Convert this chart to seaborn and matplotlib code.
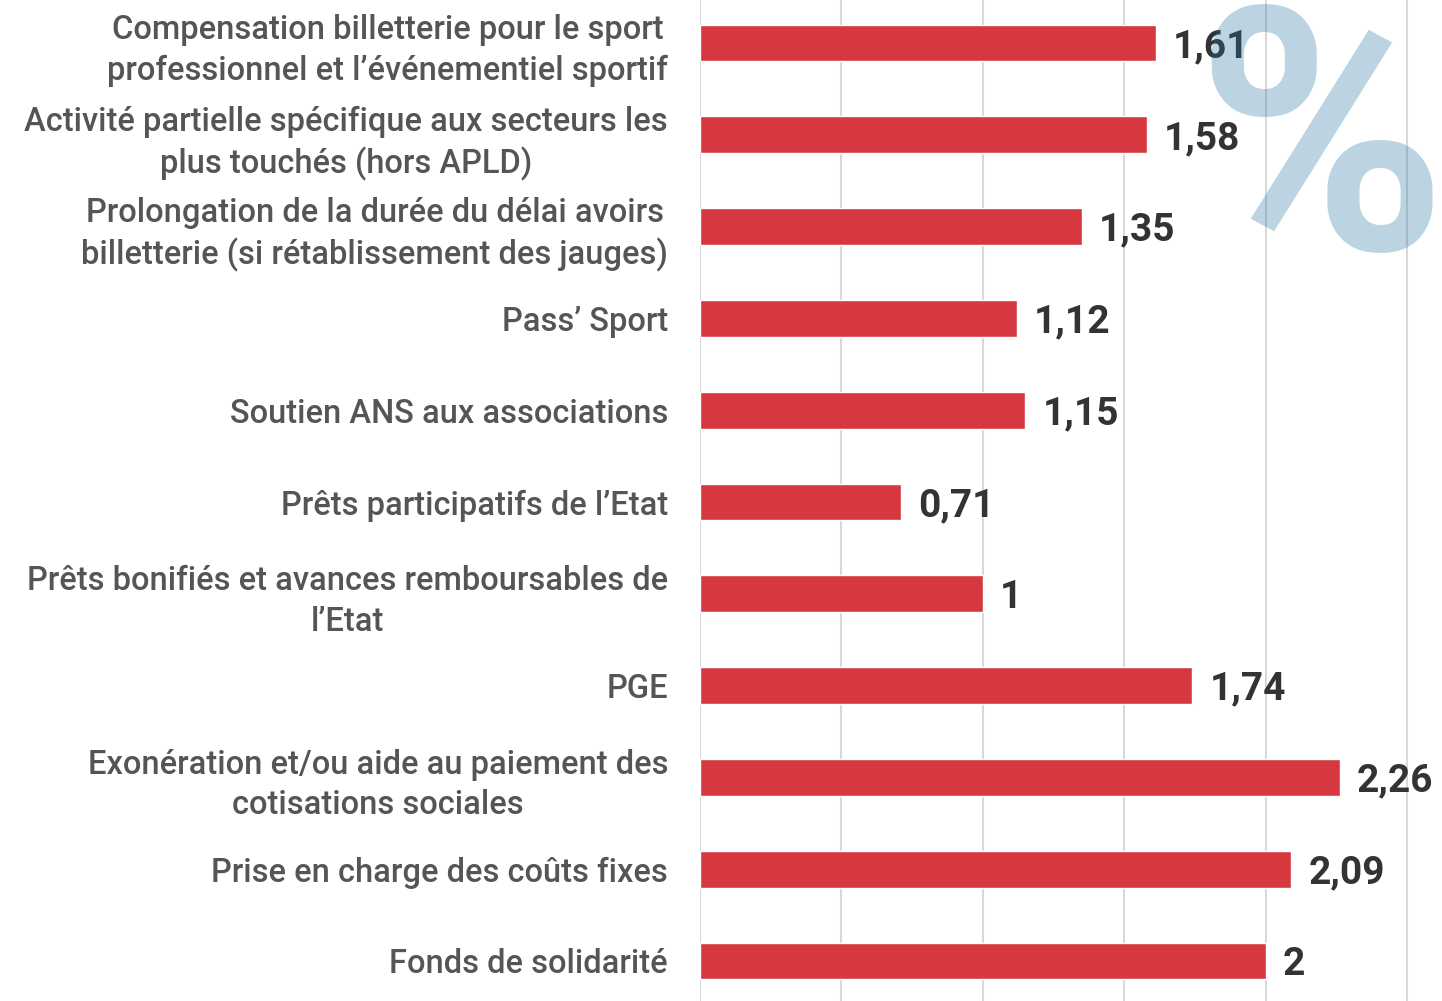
import seaborn as sb
import pandas as pd
import numpy as np
import matplotlib.pyplot as plt

# aides covid au sport -- note moyenne par dispositif
labels = [
    "Compensation billetterie pour le sport\nprofessionnel et l\u2019\u00e9v\u00e9nementiel sportif",
    "Activit\u00e9 partielle sp\u00e9cifique aux secteurs les\nplus touch\u00e9s (hors APLD)",
    "Prolongation de la dur\u00e9e du d\u00e9lai avoirs\nbilletterie (si r\u00e9tablissement des jauges)",
    "Pass\u2019 Sport",
    "Soutien ANS aux associations",
    "Pr\u00eats participatifs de l\u2019Etat",
    "Pr\u00eats bonifi\u00e9s et avances remboursables de\nl\u2019Etat",
    "PGE",
    "Exon\u00e9ration et/ou aide au paiement des\ncotisations sociales",
    "Prise en charge des co\u00fbts fixes",
    "Fonds de solidarit\u00e9",
]
values = [1.61, 1.58, 1.35, 1.12, 1.15, 0.71, 1.00, 1.74, 2.26, 2.09, 2.00]
value_text = ["1,61", "1,58", "1,35", "1,12", "1,15", "0,71", "1", "1,74", "2,26", "2,09", "2"]

df = pd.DataFrame({'dispositif': labels, 'note': values})

sb.set_theme(style='white')
plt.rcParams['font.family'] = ['Roboto', 'DejaVu Sans']

fig = plt.figure(figsize=(14.42, 10.01), dpi=100)
ax = fig.add_axes([700 / 1442, 0, 742 / 1442, 1])

sb.barplot(data=df, x='note', y='dispositif', color='#d63840', saturation=1,
           width=0.4, ax=ax, zorder=2)

ax.set_xlim(0, 2.622)
ax.set_ylim(10.436, -0.468)
ax.set_xticks(np.arange(0, 2.51, 0.5))
ax.xaxis.grid(True, color='#d9d9d9', linewidth=1.5, zorder=0)
ax.set_axisbelow(True)
ax.tick_params(axis='x', labelbottom=False, length=0)
ax.tick_params(axis='y', length=0, pad=23)
ax.set_xlabel('')
ax.set_ylabel('')
for s in ax.spines.values():
    s.set_visible(False)

ax.set_yticks(range(len(labels)))
ax.set_yticklabels(labels, fontsize=23.5, fontweight=500, color='#555555', ha='right',
                   multialignment='center', linespacing=1.33)

for i, (v, t) in enumerate(zip(values, value_text)):
    ax.text(v + 0.06, i + 0.04, t, va='center', ha='left', fontsize=28,
            fontweight='bold', color='#333333', zorder=3)

# grand % en filigrane
fig.text(1.003, 1.005, '%', ha='right', va='top',
         fontsize=245, fontweight='bold', color='#2373a2', alpha=0.3, zorder=5)

fig.savefig('out.png', dpi=100)
